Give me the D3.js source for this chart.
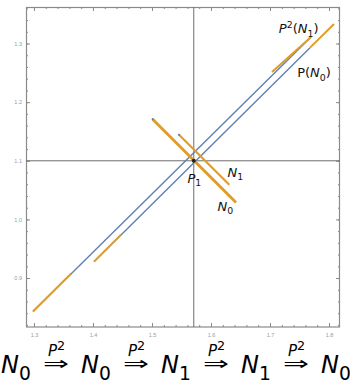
<!DOCTYPE html>
<html>
<head>
<meta charset="utf-8">
<script src="https://cdn.jsdelivr.net/npm/d3@7"></script>
<style>
body { margin: 0; background: #fff; }
svg { display: block; font-family: "DejaVu Sans", sans-serif; }
</style>
</head>
<body>
<svg id="chart"></svg>
<script>
const xTicks = [1.3, 1.4, 1.5, 1.6, 1.7, 1.8];
const yTicks = [0.9, 1.0, 1.1, 1.2, 1.3];

// fixed point P1 (crosshair)
const fixedPoint = [1.5708, 1.1];

// the two long diagonal curves
const blueLines = [
    [[1.2983, 0.8428], [1.7695, 1.3112]],
    [[1.4017, 0.9280], [1.7678, 1.2930]]
];

// the boxes N0, N1
const boxes = [
    [[1.5012, 1.1710], [1.6424, 1.0290]],
    [[1.5458, 1.1443], [1.6310, 1.0591]]
];

// orange pieces lying on the diagonals
const imagePieces = [
    [[1.2983, 0.8428], [1.3627, 0.9075]],
    [[1.7034, 1.2516], [1.7695, 1.3112]],
    [[1.4017, 0.9280], [1.4475, 0.9740]],
    [[1.7678, 1.2930], [1.8085, 1.3334]]
];

// labels: parts are [text, kind]
const labels = [
    {at: [1.7150, 1.3181], parts: [["P", "i"], ["2", "sup"], ["(", ""], ["N", "i"], ["1", "sub"], [")", ""]]},
    {at: [1.7460, 1.2431], parts: [["P(", ""], ["N", "i"], ["0", "sub"], [")", ""]]},
    {at: [1.5600, 1.0625], parts: [["P", "i"], ["1", "sub"]]},
    {at: [1.6280, 1.0727], parts: [["N", "i"], ["1", "sub"]]},
    {at: [1.6110, 1.0148], parts: [["N", "i"], ["0", "sub"]]}
];

// caption sequence
const sequence = ["0", "0", "1", "1", "0"];
const arrowLabel = "P";

const W = 350, H = 383;
const BLUE = "#5e81b5", ORANGE = "#e19c24", FRAME = "#8a8a8a";

var svg = d3.select("#chart").attr("width", W).attr("height", H);

var x = d3.scaleLinear().domain([1.2865, 1.8186]).range([26, 340]);
var y = d3.scaleLinear().domain([0.8165, 1.3623]).range([327, 7]);

var minorX = d3.range(1.3, 1.81, 0.02);
var minorY = d3.range(0.82, 1.361, 0.02);
var fmt = d3.format(".1f");

function styleAxis(g) {
    g.select(".domain").remove();
    g.selectAll(".tick line").attr("stroke", FRAME);
    g.selectAll(".tick text").attr("fill", "#9a9a9a").attr("font-size", 5.5);
}

/* frame ticks, all pointing inward */
svg.append("g").attr("transform", "translate(0,327)")
    .call(d3.axisBottom(x).tickValues(minorX).tickSize(-2).tickFormat(""))
    .call(styleAxis);
svg.append("g").attr("transform", "translate(0,327)")
    .call(d3.axisBottom(x).tickValues(xTicks).tickSize(-4).tickPadding(6).tickFormat(fmt))
    .call(styleAxis);
svg.append("g").attr("transform", "translate(0,7)")
    .call(d3.axisTop(x).tickValues(minorX).tickSize(-2).tickFormat(""))
    .call(styleAxis);
svg.append("g").attr("transform", "translate(0,7)")
    .call(d3.axisTop(x).tickValues(xTicks).tickSize(-4).tickFormat(""))
    .call(styleAxis);
svg.append("g").attr("transform", "translate(26,0)")
    .call(d3.axisLeft(y).tickValues(minorY).tickSize(-2).tickFormat(""))
    .call(styleAxis);
svg.append("g").attr("transform", "translate(26,0)")
    .call(d3.axisLeft(y).tickValues(yTicks).tickSize(-4).tickPadding(4).tickFormat(fmt))
    .call(styleAxis);
svg.append("g").attr("transform", "translate(340,0)")
    .call(d3.axisRight(y).tickValues(minorY).tickSize(-2).tickFormat(""))
    .call(styleAxis);
svg.append("g").attr("transform", "translate(340,0)")
    .call(d3.axisRight(y).tickValues(yTicks).tickSize(-4).tickFormat(""))
    .call(styleAxis);

svg.append("rect")
    .attr("x", 26.5).attr("y", 7.5)
    .attr("width", 313).attr("height", 319.5)
    .attr("fill", "none").attr("stroke", FRAME).attr("stroke-width", 1.2);

/* crosshair through P1 */
svg.append("line")
    .attr("x1", x(fixedPoint[0])).attr("x2", x(fixedPoint[0]))
    .attr("y1", 7).attr("y2", 327)
    .attr("stroke", "#6e6e6e").attr("stroke-width", 1);
svg.append("line")
    .attr("x1", 26).attr("x2", 340)
    .attr("y1", y(fixedPoint[1])).attr("y2", y(fixedPoint[1]))
    .attr("stroke", "#6e6e6e").attr("stroke-width", 1);

var line = d3.line().x(d => x(d[0])).y(d => y(d[1]));

svg.append("g").selectAll("path")
    .data(blueLines)
    .enter().append("path")
    .attr("d", line)
    .attr("fill", "none")
    .attr("stroke", BLUE)
    .attr("stroke-width", 1.4);

svg.append("g").selectAll("path")
    .data(imagePieces)
    .enter().append("path")
    .attr("d", line)
    .attr("fill", "none")
    .attr("stroke", ORANGE)
    .attr("stroke-width", 2);

svg.append("g").selectAll("path")
    .data(boxes)
    .enter().append("path")
    .attr("d", line)
    .attr("fill", "none")
    .attr("stroke", ORANGE)
    .attr("stroke-width", (d, i) => i == 0 ? 2.8 : 2.1);

// blue tips where the boxes start
svg.append("g").selectAll("circle")
    .data(boxes)
    .enter().append("circle")
    .attr("cx", d => x(d[0][0]))
    .attr("cy", d => y(d[0][1]))
    .attr("r", 1.1)
    .attr("fill", BLUE);

svg.append("circle")
    .attr("cx", x(fixedPoint[0])).attr("cy", y(fixedPoint[1]))
    .attr("r", 2).attr("fill", "#222");

/* math-ish text built from tspans */
function mathText(sel, parts, size, subScale) {
    var shift = 0;
    subScale = subScale || 0.72;
    parts.forEach(function (p) {
        var t = sel.append("tspan").text(p[0]);
        var target = 0;
        if (p[1] == "i") t.attr("font-style", "italic");
        if (p[1] == "sub") { target = size * 0.28; t.attr("font-size", size * subScale); }
        if (p[1] == "sup") { target = -size * 0.38; t.attr("font-size", size * subScale); }
        t.attr("dy", target - shift);
        shift = target;
    });
}

labels.forEach(function (l) {
    var t = svg.append("text")
        .attr("x", x(l.at[0]))
        .attr("y", y(l.at[1]))
        .attr("font-size", 13)
        .attr("fill", "#111");
    mathText(t, l.parts, 13);
});

/* caption */
var cx = d3.scaleLinear().domain([0, sequence.length - 1]).range([1, 321]);
var cap = svg.append("g");

sequence.forEach(function (s, i) {
    var t = cap.append("text")
        .attr("x", cx(i)).attr("y", 373)
        .attr("font-size", 24)
        .attr("fill", "#000");
    mathText(t, [["N", "i"], [s, "sub"]], 24, 0.78);

    if (i < sequence.length - 1) {
        var mid = cx(i) + 55;
        cap.append("text")
            .attr("x", mid - 13).attr("y", 370)
            .attr("font-size", 19)
            .attr("textLength", 26)
            .attr("lengthAdjust", "spacingAndGlyphs")
            .text("\u21D2");
        var p = cap.append("text")
            .attr("x", mid - 8).attr("y", 356)
            .attr("font-size", 15);
        mathText(p, [[arrowLabel, "i"], ["2", "sup"]], 15, 0.85);
    }
});
</script>
</body>
</html>
